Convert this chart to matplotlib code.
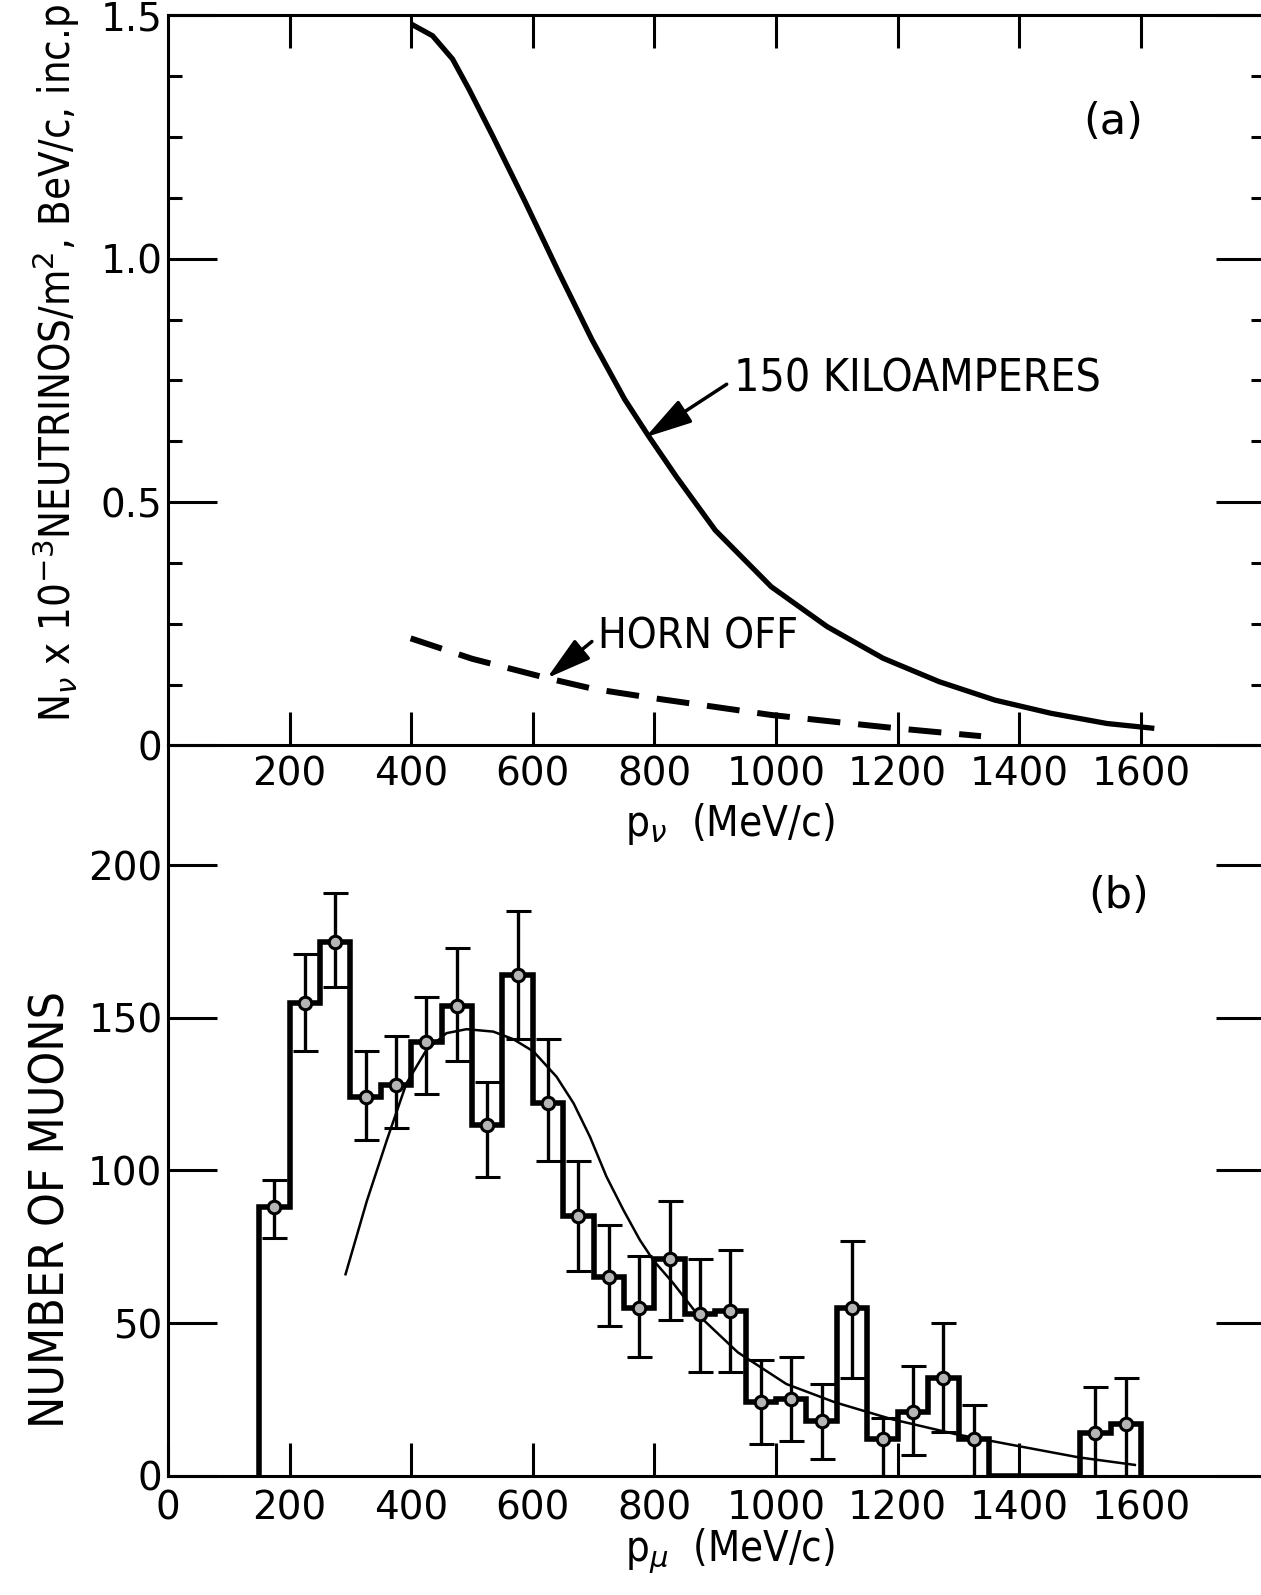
import os
import numpy as np
import matplotlib
matplotlib.use("Agg")
import matplotlib.pyplot as plt
from matplotlib import font_manager
from matplotlib.text import Text

# ------------------------------------------------------------------ data
# panel (a): neutrino flux vs p_nu
p_horn_on = [400, 435, 468, 495, 534, 588, 643, 697, 751, 790, 836, 900,
             992, 1084, 1176, 1268, 1360, 1452, 1544, 1622]
flux_horn_on = [1.482, 1.458, 1.41, 1.348, 1.252, 1.115, 0.971, 0.834, 0.711,
                0.636, 0.552, 0.442, 0.326, 0.244, 0.179, 0.131, 0.093,
                0.066, 0.045, 0.035]
p_horn_off = [399, 500, 624, 700, 799, 900, 992, 1100, 1199, 1337]
flux_horn_off = [0.220, 0.178, 0.138, 0.116, 0.097, 0.079, 0.0625, 0.048,
                 0.035, 0.019]

a_xticks = [200, 400, 600, 800, 1000, 1200, 1400, 1600]
a_xticklabels = ["200", "400", "600", "800", "1000", "1200", "1400", "1600"]
a_yticks = [0, 0.5, 1.0, 1.5]
a_yticklabels = ["0", "0.5", "1.0", "1.5"]

# panel (b): muon momentum histogram
bin_edges = [150, 200, 250, 300, 350, 400, 450, 500, 550, 600, 650, 700, 750,
             800, 850, 900, 950, 1000, 1050, 1100, 1150, 1200, 1250, 1300,
             1350, 1400, 1450, 1500, 1550, 1600]
counts = [88, 155, 175, 124, 128, 142, 154, 115, 164, 122, 85, 65, 55, 71, 53,
          54, 24, 25, 18, 55, 12, 21, 32, 12, 0, 0, 0, 14, 17]
err_top = [97, 171, 191, 139, 144, 157, 173, 129, 185, 143, 103, 82, 72, 90,
           71, 74, 38, 39, 30, 77, 19, 36, 50, 23, None, None, None, 29, 32]
err_bottom = [78, 139, 160, 110, 114, 125, 136, 98, 143, 103, 67, 49, 39, 51,
              34, 34, 10.5, 11.5, 5.5, 32, 0, 6.6, 14.4, 0, None, None, None,
              0, 0]

fit_p = [292, 327, 360, 392, 425, 458, 491, 535, 568, 601, 639, 667, 694, 721,
         749, 776, 798, 831, 870, 937, 1017, 1097, 1190, 1297, 1403, 1497,
         1590]
fit_counts = [66, 90, 110, 128.5, 139.5, 145, 146.3, 145.5, 143, 139, 130.7,
              122, 111, 98, 87, 77.2, 70.6, 63, 53, 40.4, 30, 24, 18.5, 13.5,
              9.5, 6, 3.5]

b_xticks = [0, 200, 400, 600, 800, 1000, 1200, 1400, 1600]
b_xticklabels = ["0", "200", "400", "600", "800", "1000", "1200", "1400", "1600"]
b_yticks = [0, 50, 100, 150, 200]
b_yticklabels = ["0", "50", "100", "150", "200"]

# ------------------------------------------------------------------ fonts
plt.rcParams["font.family"] = ["DejaVu Sans"]
plt.rcParams["mathtext.fontset"] = "dejavusans"


def find_condensed_sans():
    prefs = ["Liberation Sans Narrow", "DejaVu Sans", "Roboto Condensed",
             "Roboto", "Noto Sans", "Open Sans", "Liberation Sans", "Lato",
             "Inter"]
    cands = []
    for f in font_manager.fontManager.ttflist:
        base = os.path.basename(f.fname).lower()
        if f.style != "normal":
            continue
        if "mono" in base or "cjk" in base or "italic" in base:
            continue
        if "serif" in base and "sans" not in base:
            continue
        w = f.weight
        if not isinstance(w, (int, float)):
            w = {"normal": 400, "regular": 400, "book": 400,
                 "medium": 500}.get(str(w).lower(), 700)
        if not (350 <= w <= 500):
            continue
        cond = (str(f.stretch) in ("condensed", "semi-condensed")
                or "condensed" in base or "narrow" in base)
        if not cond:
            continue
        extreme = 1 if ("extra" in base or "ultra" in base or "semi" in base) else 0
        fam_rank = 99
        for i, p in enumerate(prefs):
            if f.name.startswith(p):
                fam_rank = i
                break
        cands.append((extreme, fam_rank, abs(w - 400), f.fname))
    if not cands:
        return None
    cands.sort()
    return cands[0][3]


COND_PATH = find_condensed_sans()


def lbl_font():
    if COND_PATH:
        return font_manager.FontProperties(fname=COND_PATH)
    return font_manager.FontProperties(family="DejaVu Sans")


# ------------------------------------------------------------------ layout
W_PX, H_PX = 1261, 1595
fig = plt.figure(figsize=(W_PX / 100, H_PX / 100), dpi=100)

left = 168 / W_PX
width = (1265 - 168) / W_PX
a_bottom = 849.6 / H_PX
a_height = (1579.7 - 849.6) / H_PX
b_bottom = 119.4 / H_PX
b_height = (849.6 - 119.4) / H_PX

axB = fig.add_axes([left, b_bottom, width, b_height])
axA = fig.add_axes([left, a_bottom, width, a_height])
for ax in (axA, axB):
    ax.set_facecolor("none")
    ax.set_xlim(0, 1804)
    for s in ax.spines.values():
        s.set_linewidth(2.2)

# ------------------------------------------------------------------ panel (a)
axA.set_ylim(0, 1.5)
axA.plot(p_horn_on, flux_horn_on, color="black", lw=3.8,
         solid_capstyle="butt", solid_joinstyle="round")
axA.plot(p_horn_off, flux_horn_off, color="black", lw=4.3, dashes=(5.5, 3),
         dash_capstyle="butt")

axA.set_xticks(a_xticks)
axA.set_xticklabels(a_xticklabels)
axA.set_yticks(a_yticks)
axA.set_yticklabels(a_yticklabels)
axA.set_yticks(np.arange(0, 1.5001, 0.125), minor=True)
axA.tick_params(axis="x", which="major", direction="in", length=24, width=2.2,
                top=True, bottom=True, labelsize=28, pad=7)
axA.tick_params(axis="y", which="major", direction="in", length=35, width=2.2,
                left=True, right=True, labelsize=28, pad=4)
axA.tick_params(axis="y", which="minor", direction="in", length=10, width=2.2,
                left=True, right=True)
axA.tick_params(axis="x", which="minor", bottom=False, top=False)

arrow_kw = dict(arrowstyle="-|>,head_length=0.9,head_width=0.25",
                color="black", lw=2.5, shrinkB=0, relpos=(0, 0.5))
ann1 = axA.annotate("150 KILOAMPERES", xy=(785, 0.633), xytext=(931, 0.752),
                    textcoords="data", ha="left", va="center", fontsize=30,
                    fontproperties=lbl_font(),
                    arrowprops=dict(arrow_kw, shrinkA=4))
ann2 = axA.annotate("HORN OFF", xy=(623, 0.138), xytext=(707, 0.2235),
                    textcoords="data", ha="left", va="center", fontsize=30,
                    fontproperties=lbl_font(),
                    arrowprops=dict(arrow_kw, shrinkA=3))
axA.text(1554, 1.281, "(a)", ha="center", va="center", fontsize=31,
         family=["DejaVu Sans"])

# ------------------------------------------------------------------ panel (b)
axB.set_ylim(0, 239.3)
axB.spines["top"].set_visible(False)

cnt = np.array(counts, dtype=float)
top = np.array([np.nan if v is None else v for v in err_top], dtype=float)
bot = np.array([np.nan if v is None else v for v in err_bottom], dtype=float)
edges = np.array(bin_edges, dtype=float)
centers = 0.5 * (edges[:-1] + edges[1:])
mask = cnt > 0

axB.plot(fit_p, fit_counts, color="black", lw=1.8, zorder=2)
axB.stairs(cnt, edges, baseline=0, color="black", lw=4, zorder=3)
axB.errorbar(centers[mask], cnt[mask],
             yerr=[cnt[mask] - bot[mask], top[mask] - cnt[mask]],
             fmt="o", ms=9, mfc="#b5b5b5", mec="black", mew=2.2,
             ecolor="black", elinewidth=2.4, capsize=9, capthick=2.4,
             zorder=4)

axB.set_xticks(b_xticks)
axB.set_xticklabels(b_xticklabels)
axB.set_yticks(b_yticks)
axB.set_yticklabels(b_yticklabels)
axB.tick_params(axis="x", direction="in", length=24, width=2.2, top=False,
                bottom=True, labelsize=28, pad=10)
axB.tick_params(axis="y", direction="in", length=35, width=2.2, left=True,
                right=True, labelsize=28, pad=4)
axB.text(1563, 190, "(b)", ha="center", va="center", fontsize=31,
         family=["DejaVu Sans"])

# ------------------------------------------------------------------ labels
ylab_a = fig.text(0.0444, 0.7724,
                  r"N$_{\nu}$ x 10$^{-3}$NEUTRINOS/m$^{2}$, BeV/c, inc.p",
                  rotation=90, ha="center", va="center", fontsize=30,
                  fontproperties=lbl_font())
ylab_b = fig.text(0.0404, 0.2414, "NUMBER OF MUONS", rotation=90,
                  ha="center", va="center", fontsize=30,
                  fontproperties=lbl_font())
xlab_a = fig.text(0.579, 0.4759, r"p$_{\nu}$  (MeV/c)", ha="center",
                  va="baseline", fontsize=30, fontproperties=lbl_font())
xlab_b = fig.text(0.579, 0.0213, r"p$_{\mu}$  (MeV/c)", ha="center",
                  va="baseline", fontsize=30, fontproperties=lbl_font())

# size each label so that its length matches the reference (in pixels)
fit_targets = [(ylab_a, 717, "h"), (ylab_b, 437, "h"), (xlab_a, 210, "w"),
               (xlab_b, 210, "w"), (ann1, 367, "w"), (ann2, 200, "w")]
for _ in range(3):
    fig.canvas.draw()
    r = fig.canvas.get_renderer()
    for t, target, dim in fit_targets:
        bb = Text.get_window_extent(t, r)
        cur = bb.height if dim == "h" else bb.width
        if cur > 0:
            t.set_fontsize(t.get_fontsize() * target / cur)

fig.savefig("out.png", dpi=100)
